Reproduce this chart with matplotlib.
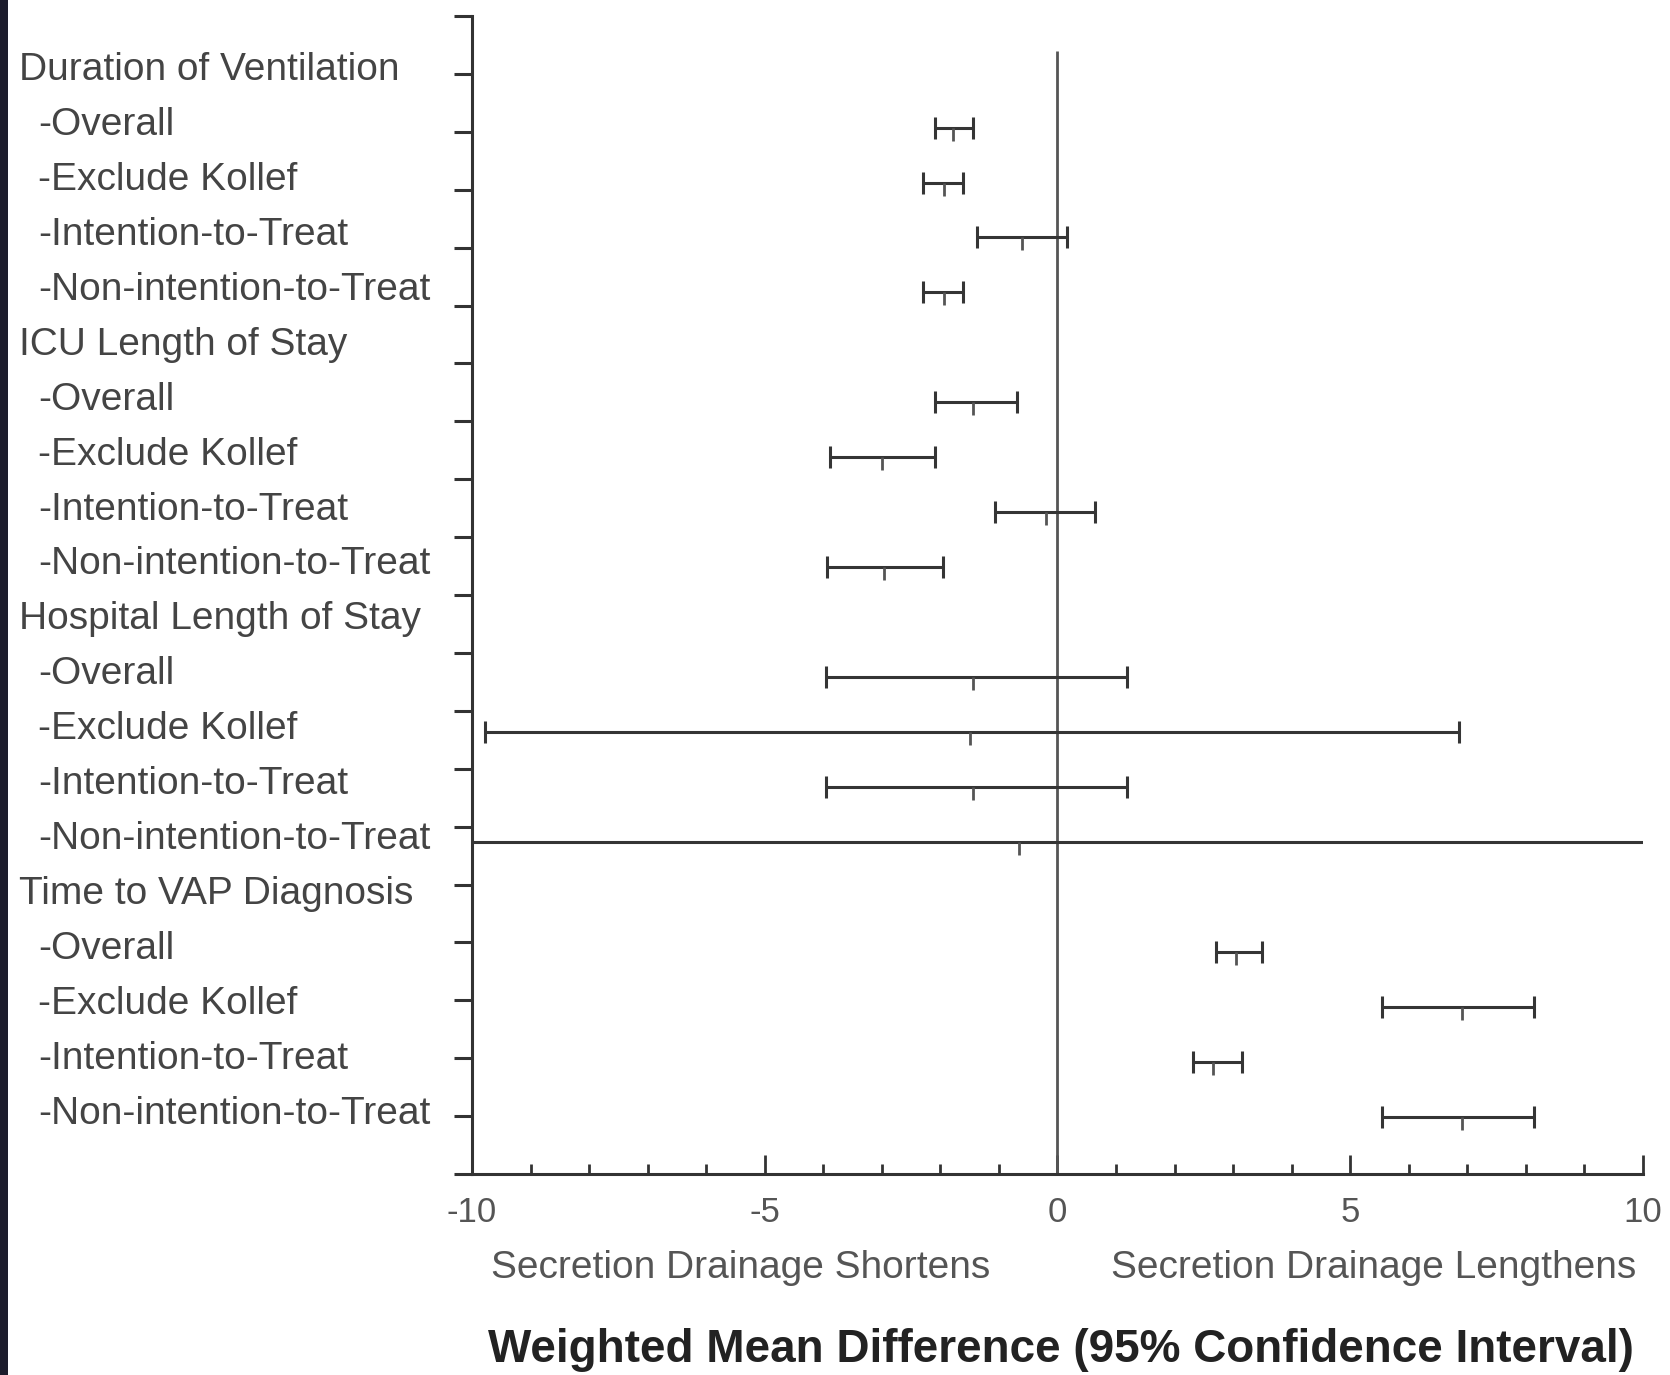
import numpy as np
import matplotlib.pyplot as plt
from matplotlib.ticker import MultipleLocator
from matplotlib.patches import Rectangle
import matplotlib.transforms as mtransforms

# row labels, top to bottom
labels = ["Duration of Ventilation", "-Overall", "-Exclude Kollef",
          "-Intention-to-Treat", "-Non-intention-to-Treat",
          "ICU Length of Stay", "-Overall", "-Exclude Kollef",
          "-Intention-to-Treat", "-Non-intention-to-Treat",
          "Hospital Length of Stay", "-Overall", "-Exclude Kollef",
          "-Intention-to-Treat", "-Non-intention-to-Treat",
          "Time to VAP Diagnosis", "-Overall", "-Exclude Kollef",
          "-Intention-to-Treat", "-Non-intention-to-Treat"]
headers = [0, 5, 10, 15]

# estimates (weighted mean difference) and 95% CI
est_rows = [1, 2, 3, 4, 6, 7, 8, 9, 11, 12, 13, 14, 16, 17, 18, 19]
est = [-1.78, -1.93, -0.60, -1.93, -1.45, -3.00, -0.20, -2.96,
       -1.45, -1.50, -1.45, -0.65, 3.05, 6.91, 2.65, 6.91]
lo = [-2.09, -2.29, -1.38, -2.29, -2.09, -3.89, -1.07, -3.93,
      -3.96, -9.78, -3.96, -14.0, 2.71, 5.55, 2.31, 5.55]
hi = [-1.45, -1.62, 0.16, -1.62, -0.69, -2.09, 0.64, -1.95,
      1.18, 6.85, 1.18, 14.0, 3.49, 8.13, 3.15, 8.13]

xticks = [-10, -5, 0, 5, 10]
xticklabels = ["-10", "-5", "0", "5", "10"]

plt.rcParams['font.family'] = ['Liberation Sans', 'DejaVu Sans']

W, H = 1670, 1375
fig = plt.figure(figsize=(W / 100, H / 100), dpi=100)
fig.patch.set_facecolor("white")

# axes box in pixels
left, right, top, bottom = 472, 1643, 16, 1174
ax = fig.add_axes([left / W, (H - bottom) / H, (right - left) / W,
                   (bottom - top) / H])

ytop, ybot = -1.03, 20.04
ax.set_ylim(ybot, ytop)
ax.set_xlim(-10, 10)

line_col = "#353535"
est = np.array(est)
lo = np.array(lo)
hi = np.array(hi)
ax.errorbar(est, est_rows, xerr=[est - lo, hi - est], fmt="none",
            ecolor=line_col, elinewidth=2.2, capsize=8, capthick=2.2,
            zorder=3)
ax.plot(est, est_rows, linestyle="none", marker=3, markersize=9,
        markeredgewidth=2, color="#555555", zorder=4)

# line of no effect
ax.vlines(0, -0.4, ybot, color="#555555", lw=2, zorder=2)

# spines and ticks
for s in ["top", "right"]:
    ax.spines[s].set_visible(False)
ax.spines["left"].set_linewidth(2.2)
ax.spines["bottom"].set_linewidth(2.2)
ax.spines["left"].set_color("#333333")
ax.spines["bottom"].set_color("#333333")

ax.set_yticks(np.linspace(ytop, ybot, 21))
ax.set_yticklabels([])
ax.tick_params(axis="y", direction="out", length=13, width=2.2,
               color="#333333")

ax.set_xticks(xticks)
ax.set_xticklabels(xticklabels)
ax.xaxis.set_minor_locator(MultipleLocator(1))
ax.tick_params(axis="x", which="major", direction="in", length=14,
               width=2, color="#333333", labelsize=25, labelcolor="#555555",
               pad=16)
ax.tick_params(axis="x", which="minor", direction="in", length=7,
               width=2, color="#333333")

# row labels
trans = mtransforms.blended_transform_factory(fig.transFigure, ax.transData)
for i, lab in enumerate(labels):
    xpos = 19 if i in headers else 38
    ax.text(xpos / W, i - 0.05, lab, transform=trans, ha="left",
            va="center", fontsize=28, color="#444444", clip_on=False)

# direction labels and axis title
fig.text(741 / W, 1 - 1268 / H, "Secretion Drainage Shortens",
         ha="center", va="center", fontsize=28, color="#555555")
fig.text(1374 / W, 1 - 1268 / H, "Secretion Drainage Lengthens",
         ha="center", va="center", fontsize=28, color="#555555")
fig.text(1061 / W, 1 - 1350 / H,
         "Weighted Mean Difference (95% Confidence Interval)",
         ha="center", va="center", fontsize=33, fontweight="bold",
         color="#222222")

# dark strip on the left edge
fig.patches.append(Rectangle((0, 0), 8 / W, 1, transform=fig.transFigure,
                             facecolor="#1c1c2c", edgecolor="none"))

fig.savefig("out.png", dpi=100)
